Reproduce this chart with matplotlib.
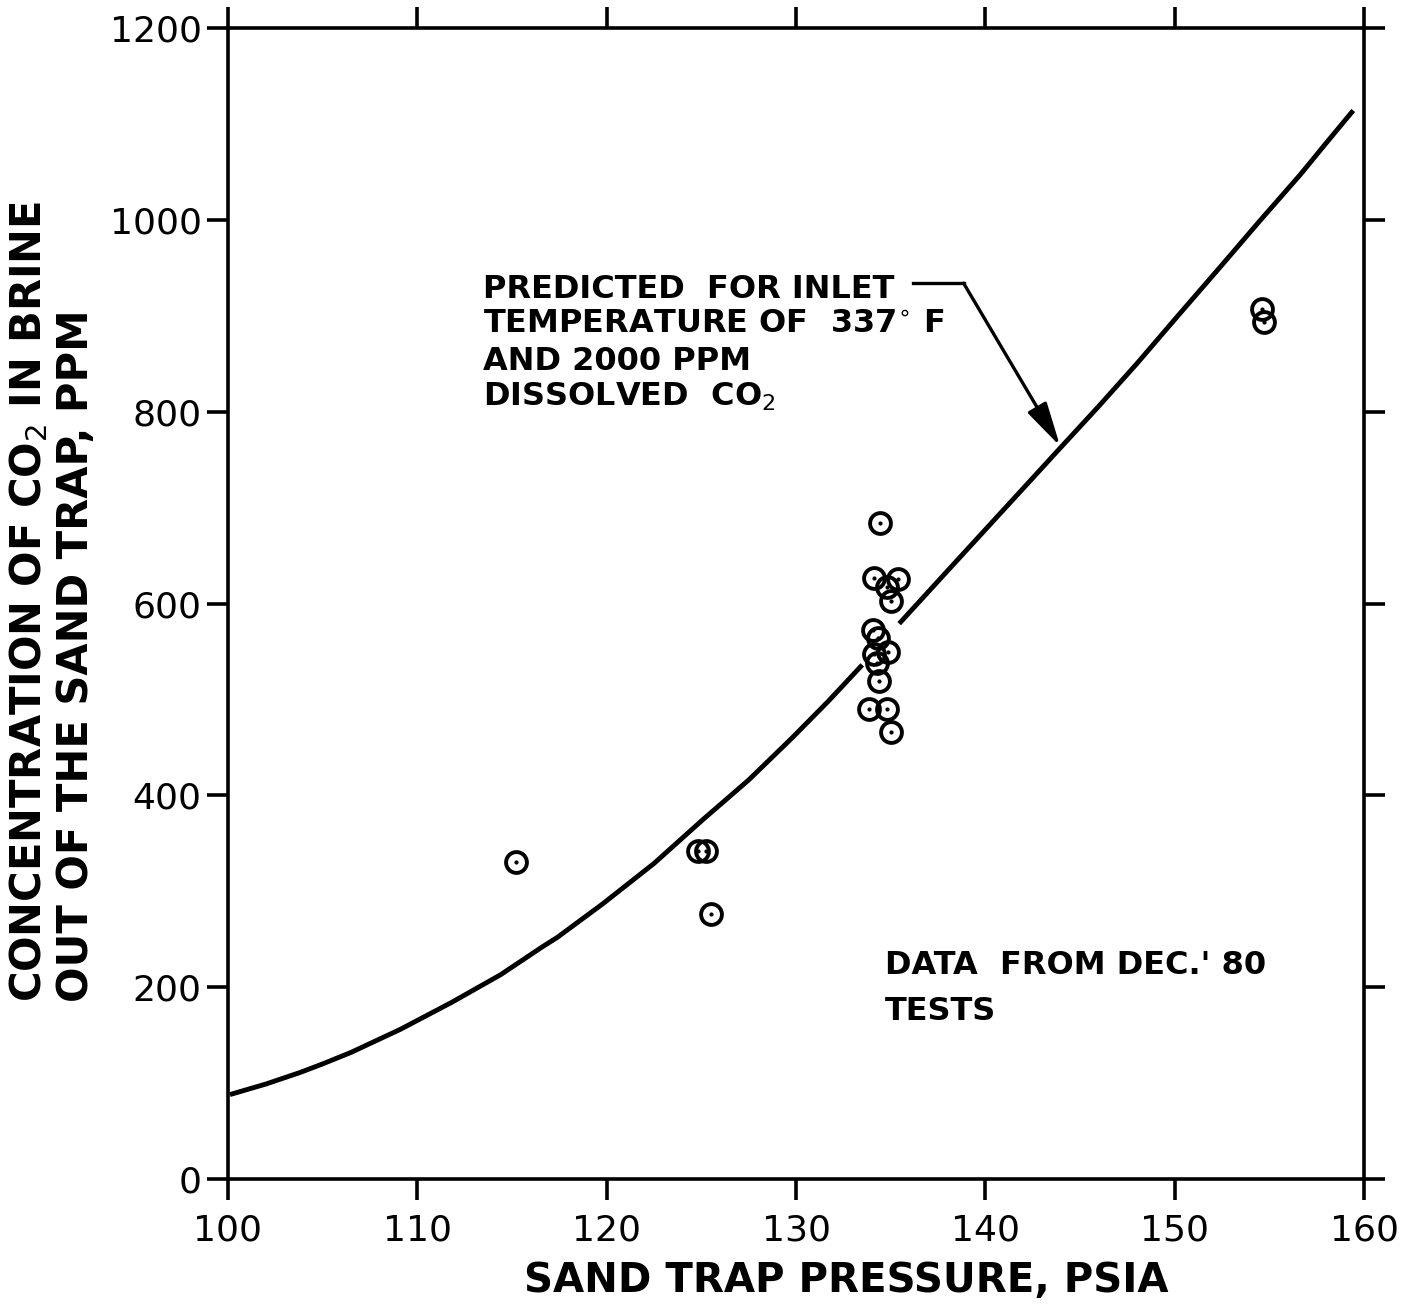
import matplotlib
matplotlib.use("Agg")
import matplotlib.pyplot as plt

plt.rcParams['font.family'] = ['DejaVu Sans']

# measured data points, Dec. '80 tests
pressure = [115.2, 124.8, 125.25, 125.5,
            134.45, 134.1, 135.4, 134.8, 135.0, 134.05, 134.35,
            134.85, 134.1, 134.3, 134.4, 133.85, 134.8, 135.0,
            154.6, 154.7]
co2_ppm = [331, 342, 342, 276,
           684, 627, 626, 617, 603, 572, 564,
           549, 547, 538, 519, 490, 490, 466,
           907, 893]

# predicted curve (two pieces, broken around the data cluster)
pred_x_low = [100.1, 102.0, 103.8, 105.0, 106.5, 109.1, 111.8, 114.4, 116.6, 117.4,
              119.8, 122.5, 125.1, 127.5, 129.8, 131.7, 133.5]
pred_y_low = [88, 99, 111, 120, 132, 156, 184, 213, 242, 252,
              287, 329, 375, 416, 460, 498, 536]
pred_x_high = [135.45, 138.0, 140.0, 142.0, 143.95, 145.96, 148.0, 150.0,
               152.5, 154.5, 156.63, 158.0, 159.43]
pred_y_high = [579, 634, 677, 720, 762, 805, 850, 896,
               953, 999, 1047, 1080, 1114]

xticks = [100, 110, 120, 130, 140, 150, 160]
yticks = [0, 200, 400, 600, 800, 1000, 1200]

fig = plt.figure(figsize=(14.22, 13.08), dpi=100)
ax = fig.add_axes([228/1422, 1 - 1179/1308, (1364-228)/1422, (1179-28)/1308])

# predicted line
ax.plot(pred_x_low, pred_y_low, color='black', lw=3.5, solid_capstyle='butt')
ax.plot(pred_x_high, pred_y_high, color='black', lw=3.5, solid_capstyle='butt')

# data: open circles with a dot in the middle
ax.plot(pressure, co2_ppm, linestyle='none', marker='o', markersize=15,
        markerfacecolor='none', markeredgecolor='black', markeredgewidth=2.8)
ax.plot(pressure, co2_ppm, linestyle='none', marker='.', markersize=4,
        color='black')

ax.set_xlim(100, 160)
ax.set_ylim(0, 1200)
ax.set_xticks(xticks)
ax.set_yticks(yticks)

for s in ax.spines.values():
    s.set_linewidth(2.6)

ax.tick_params(axis='both', which='major', direction='out', length=15, width=2.6,
               top=True, right=True, labelsize=26)
ax.tick_params(axis='x', pad=10)
ax.tick_params(axis='y', pad=4)

# annotation for the predicted curve
note = dict(fontsize=23, fontweight='bold', va='center', ha='left')
ax.text(113.45, 927, "PREDICTED  FOR INLET", **note)
ax.text(113.45, 891, "TEMPERATURE OF  337$^{\\circ}$ F", **note)
ax.text(113.45, 852, "AND 2000 PPM", **note)
ax.text(113.45, 815, "DISSOLVED  CO$_2$", **note)
ax.plot([136.2, 138.85], [934, 934], color='black', lw=2.4)
ax.annotate("", xy=(143.95, 764), xytext=(138.85, 934),
            arrowprops=dict(arrowstyle='-|>,head_length=0.9,head_width=0.22',
                            color='black', lw=2.4,
                            mutation_scale=30, shrinkA=0, shrinkB=0))

ax.text(134.7, 223, "DATA  FROM DEC.' 80", **note)
ax.text(134.7, 175, "TESTS", **note)

# axis titles
fig.text(846/1422, 1 - 1281/1308, "SAND TRAP PRESSURE, PSIA", fontsize=29,
         fontweight='bold', ha='center', va='center')
fig.text(52/1422, 1 - 1002/1308,
         "CONCENTRATION OF CO$_2$ IN BRINE\nOUT OF THE SAND TRAP, PPM",
         fontsize=30, fontweight='bold', rotation=90, ha='center', va='bottom',
         multialignment='left', linespacing=1.15)

fig.savefig("out.png", dpi=100)
